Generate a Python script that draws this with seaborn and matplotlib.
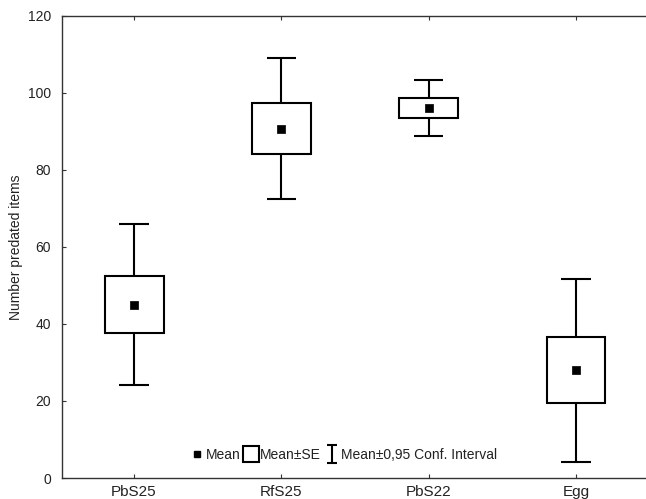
import matplotlib
matplotlib.use('Agg')
import matplotlib.pyplot as plt
from matplotlib.lines import Line2D
from matplotlib.path import Path
import seaborn as sns
import pandas as pd

groups = ['PbS25', 'RfS25', 'PbS22', 'Egg']
means = [45.0, 90.6, 96.0, 28.1]
se_low = [37.6, 84.1, 93.4, 19.6]
se_high = [52.4, 97.4, 98.7, 36.5]
ci_low = [24.2, 72.5, 88.8, 4.2]
ci_high = [65.9, 109.0, 103.3, 51.7]

df = pd.DataFrame({'group': groups, 'mean': means, 'se_low': se_low, 'se_high': se_high,
                   'ci_low': ci_low, 'ci_high': ci_high})
df['x'] = range(len(df))

sns.set_style('ticks')
plt.rcParams['font.family'] = ['Liberation Sans', 'DejaVu Sans']

fig = plt.figure(figsize=(6.46, 4.99), dpi=100)
ax = fig.add_axes([62 / 646, 1 - 478 / 499, 1 - 62 / 646, (478 - 16) / 499])

lw = 1.5
# whiskers for the confidence interval
ax.vlines(df['x'], df['ci_low'], df['ci_high'], color='black', lw=lw, zorder=1)
ax.hlines(df['ci_low'], df['x'] - 0.1, df['x'] + 0.1, color='black', lw=lw, zorder=1)
ax.hlines(df['ci_high'], df['x'] - 0.1, df['x'] + 0.1, color='black', lw=lw, zorder=1)
# SE boxes
ax.bar(df['x'], df['se_high'] - df['se_low'], bottom=df['se_low'], width=0.4,
       facecolor='white', edgecolor='black', lw=lw, zorder=2)
# means
sns.scatterplot(data=df, x='x', y='mean', marker='s', color='black', s=40,
                edgecolor='black', zorder=3, ax=ax)

ax.set_xlim(-0.489, 3.475)
ax.set_ylim(0, 120)
ax.set_yticks(range(0, 121, 20))
ax.set_xticks(df['x'])
ax.set_xticklabels(groups)
ax.set_xlabel('')
ax.set_ylabel('Number predated items', fontsize=10, labelpad=3, color='#222222')
ax.tick_params(direction='in', length=3, width=0.8, colors='#333333',
               labelcolor='#222222', top=True, right=False)
ax.tick_params(axis='y', labelsize=10, pad=8)
ax.tick_params(axis='x', labelsize=11, pad=5)
for s in ['left', 'bottom', 'top']:
    ax.spines[s].set_linewidth(1.0)
    ax.spines[s].set_color('#333333')
ax.spines['right'].set_visible(False)

i_marker = Path([(-0.5, 1), (0.5, 1), (0, 1), (0, -1), (-0.5, -1), (0.5, -1)],
                [Path.MOVETO, Path.LINETO, Path.MOVETO, Path.LINETO, Path.MOVETO, Path.LINETO])
handles = [
    Line2D([], [], ls='', marker='s', color='black', markersize=5),
    Line2D([], [], ls='', marker='s', markerfacecolor='white', markeredgecolor='black',
           markersize=11, markeredgewidth=1.5),
    Line2D([], [], ls='', marker=i_marker, markerfacecolor='none', markeredgecolor='black',
           markersize=13, markeredgewidth=1.5),
]
leg = ax.legend(handles, ['Mean', 'Mean±SE', 'Mean±0,95 Conf. Interval'], ncol=3, frameon=False,
                loc='center', bbox_to_anchor=(0.483, 0.05), fontsize=10, handlelength=0.8,
                handletextpad=0.25, columnspacing=0.35, borderaxespad=0)
for t in leg.get_texts():
    t.set_color('#222222')

fig.savefig('out.png', dpi=100)
